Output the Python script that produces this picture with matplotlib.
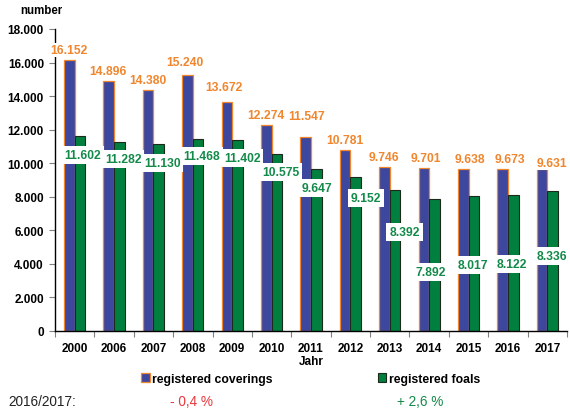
import matplotlib
matplotlib.use("Agg")
import matplotlib.pyplot as plt
import numpy as np
from matplotlib.ticker import FuncFormatter, FixedLocator
from matplotlib.patches import Patch

years = ["2000", "2006", "2007", "2008", "2009", "2010", "2011", "2012",
         "2013", "2014", "2015", "2016", "2017"]
coverings = [16152, 14896, 14380, 15240, 13672, 12274, 11547, 10781,
             9746, 9701, 9638, 9673, 9631]
foals = [11602, 11282, 11130, 11468, 11402, 10575, 9647, 9152,
         8392, 7892, 8017, 8122, 8336]
change_coverings = "- 0,4 %"
change_foals = "+ 2,6 %"
period = "2016/2017:"

# label layout (positions of the value texts, in data units)
cov_label_dx = [-0.15, -0.15, -0.14, -0.2, -0.2, -0.15, -0.11, -0.15,
                -0.15, -0.08, 0.03, 0.04, 0.13]
cov_label_y = [16750, 15490, 14960, 16030, 14540, 12870, 12810, 11380,
               10370, 10310, 10250, 10250, 10010]
foal_label_dx = [0.2, 0.23, 0.22, 0.23, 0.25, 0.23, 0.15, 0.4,
                 0.38, 0.05, 0.1, 0.11, 0.13]
foal_label_y = [10490, 10250, 10010, 10430, 10310, 9480, 8520, 7930,
                5900, 3520, 3930, 3990, 4470]

BLUE = "#3d479e"
GREEN = "#007f3e"
ORANGE = "#f0862e"
GREEN_TXT = "#138a4a"
RED_TXT = "#e8383d"

plt.rcParams["font.family"] = ["Liberation Sans", "DejaVu Sans"]

fig = plt.figure(figsize=(5.7, 4.14), dpi=100)
ax = fig.add_axes([55 / 570, 1 - 332 / 414, 512 / 570, 302 / 414])

x = np.arange(len(years))
w = 0.27
b1 = ax.bar(x - w / 2, coverings, w, color=BLUE, edgecolor=ORANGE,
            linewidth=0.9, zorder=2, label="registered coverings")
b2 = ax.bar(x + w / 2, foals, w, color=GREEN, edgecolor="#1c2a1c",
            linewidth=0.8, zorder=2, label="registered foals")

fmt = lambda v: f"{v:,}".replace(",", ".")

for i in range(len(years)):
    ax.text(x[i] + cov_label_dx[i], cov_label_y[i], fmt(coverings[i]),
            ha="center", va="center", color=ORANGE, fontsize=8.7,
            fontweight="bold", zorder=5,
            bbox=dict(boxstyle="square,pad=0.1", fc="white", ec="none"))
    ax.text(x[i] + foal_label_dx[i], foal_label_y[i], fmt(foals[i]),
            ha="center", va="center", color=GREEN_TXT, fontsize=8.7,
            fontweight="bold", zorder=5,
            bbox=dict(boxstyle="square,pad=0.25", fc="white", ec="none"))

ax.set_xlim(-0.5, len(years) - 0.5)
ax.set_ylim(0, 18000)
ax.set_yticks(np.arange(0, 18001, 2000))
ax.yaxis.set_major_formatter(FuncFormatter(lambda v, p: fmt(int(v))))
ax.set_xticks(x)
ax.set_xticklabels(years)
ax.xaxis.set_minor_locator(FixedLocator(np.arange(-0.5, len(years), 1.0)))
ax.tick_params(axis="x", which="major", length=0, pad=8)
ax.tick_params(axis="x", which="minor", length=4, color="#808080", width=0.8)
ax.tick_params(axis="y", length=4, color="#808080", width=0.8, pad=4)
for lab in ax.get_xticklabels() + ax.get_yticklabels():
    lab.set_fontweight("bold")
    lab.set_fontsize(8.5)
for s in ["top", "right"]:
    ax.spines[s].set_visible(False)
ax.spines["left"].set_linewidth(1.0)
ax.spines["bottom"].set_linewidth(1.0)

fig.text(20 / 570, 1 - 11 / 414, "number", fontsize=8.3, fontweight="bold",
         ha="left", va="center")
fig.text(311 / 570, 1 - 362 / 414, "Jahr", fontsize=8.5, fontweight="bold",
         ha="center", va="center")

handles = [Patch(facecolor=BLUE, edgecolor=ORANGE, linewidth=0.9),
           Patch(facecolor=GREEN, edgecolor="#1c2a1c", linewidth=0.8)]
leg = fig.legend(handles, ["registered coverings", "registered foals"],
                 ncol=2, loc="center left",
                 bbox_to_anchor=(130 / 570, 1 - 380 / 414), frameon=False,
                 handlelength=0.7, handleheight=0.7, handletextpad=0.2,
                 columnspacing=8.6, prop=dict(size=8.8, weight="bold"))

fig.text(8 / 570, 1 - 402 / 414, period, fontsize=9.8, ha="left",
         va="center", color="#222222")
fig.text(191 / 570, 1 - 402 / 414, change_coverings, fontsize=9.8,
         ha="center", va="center", color=RED_TXT)
fig.text(420 / 570, 1 - 402 / 414, change_foals, fontsize=9.8,
         ha="center", va="center", color=GREEN_TXT)

fig.savefig("out.png", dpi=100)
